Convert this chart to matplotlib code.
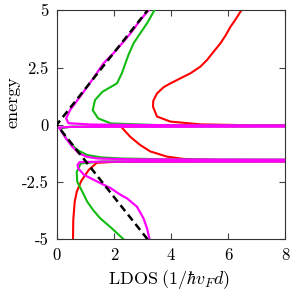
import matplotlib
matplotlib.use("Agg")
import matplotlib.pyplot as plt
import numpy as np

plt.rcParams['font.family'] = ['cmr10', 'DejaVu Serif']
plt.rcParams['mathtext.fontset'] = 'cm'
plt.rcParams['axes.unicode_minus'] = False

# ---- data (LDOS vs energy) ----
mag_E = [5.0, 4.58, 4.07, 3.63, 3.13, 2.69, 2.03, 1.23, 0.65, 0.28, 0.07, 0.01, -0.02, -0.03,
         -0.07, -0.09, -0.12, -0.23, -0.59, -0.96, -1.25, -1.40, -1.47, -1.51, -1.54,
         -1.60, -1.61, -1.63, -1.75, -1.90, -2.19, -2.48, -2.77, -3.07, -3.21, -3.58,
         -4.09, -4.52, -5.0]
mag_L = [3.21, 2.93, 2.63, 2.34, 1.99, 1.64, 1.28, 0.82, 0.47, 0.33, 0.41, 1.2, 4.0, 15,
         15, 0.5, 0.07, 0.14, 0.32, 0.55, 0.78, 1.07, 1.42, 2.6, 15,
         15, 1.6, 0.80, 0.73, 0.75, 0.96, 1.42, 1.89, 2.25, 2.46, 2.81,
         3.04, 3.16, 3.25]

grn_E = [5.0, 4.43, 3.99, 3.56, 3.05, 2.25, 1.81, 1.44, 1.08, 0.64, 0.28, 0.06, -0.01, -0.03,
         -0.05, -0.08, -0.16, -0.66, -1.10, -1.32, -1.42, -1.47, -1.51, -1.54,
         -1.58, -1.60, -1.69, -2.06, -2.49, -2.93, -3.36, -3.73, -4.08, -4.50, -5.0]
grn_L = [3.42, 3.16, 2.92, 2.69, 2.51, 2.28, 2.11, 1.60, 1.34, 1.26, 1.45, 1.9, 3.5, 15,
         15, 0.5, 0.12, 0.37, 0.72, 1.07, 1.54, 2.25, 4.0, 15,
         15, 1.6, 0.84, 0.70, 0.72, 0.90, 1.07, 1.28, 1.52, 1.91, 2.34]

red_E = [5.0, 4.60, 4.28, 3.90, 3.56, 3.19, 2.83, 2.54, 2.25, 2.03, 1.81, 1.64, 1.37, 1.05,
         0.79, 0.36, 0.14, 0.02, -0.02, -0.04,
         -0.05, -0.06, -0.12, -0.52, -0.88, -1.16, -1.39, -1.49, -1.54, -1.56,
         -1.58, -1.62, -1.66, -1.97, -2.45, -2.93, -3.36, -4.16, -5.0]
red_L = [6.46, 6.26, 6.08, 5.91, 5.73, 5.49, 5.26, 5.03, 4.68, 4.33, 3.98, 3.74, 3.51, 3.38,
         3.37, 3.51, 3.98, 5.03, 6.78, 15,
         15, 2.3, 2.28, 2.57, 2.92, 3.27, 3.86, 4.44, 5.61, 15,
         15, 2.0, 1.40, 1.12, 0.86, 0.70, 0.63, 0.58, 0.57]

ref_E = [-5.0, 0.0, 5.0]
ref_L = [3.18, 0.0, 3.18]

xticks = [0, 2, 4, 6, 8]
xticklabels = ['0', '2', '4', '6', '8']
yticks = [-5, -2.5, 0, 2.5, 5]
yticklabels = ['-5', '-2.5', '0', '2.5', '5']

fig = plt.figure(figsize=(2.96, 2.91), dpi=100)
ax = fig.add_axes([56.7/296, 1 - 239.3/291, 228.6/296, 229.0/291])

ax.plot(red_L, red_E, color='#ff0000', lw=1.5, zorder=2)
ax.plot(grn_L, grn_E, color='#11bb11', lw=1.5, zorder=3)
ax.plot(mag_L, mag_E, color='#ff00ff', lw=1.6, zorder=4)
ax.plot(ref_L, ref_E, color='black', lw=1.8, ls=(0, (3, 1.8)), zorder=5)

ax.set_xlim(0, 8)
ax.set_ylim(-5, 5)
ax.set_xticks(xticks)
ax.set_xticklabels(xticklabels)
ax.set_yticks(yticks)
ax.set_yticklabels(yticklabels)
ax.tick_params(direction='in', top=True, right=True, length=4, width=0.8,
               labelsize=12, pad=6, color='#444444')
for s in ax.spines.values():
    s.set_color('#333333')
    s.set_linewidth(0.8)

ax.set_xlabel(r'LDOS$\;(1/\hbar v_F d)$', fontsize=13)
ax.set_ylabel('energy', fontsize=13)
ax.xaxis.set_label_coords(0.49, -0.125)
ax.yaxis.set_label_coords(-0.16, 0.6)

fig.savefig('out.png', dpi=100)
